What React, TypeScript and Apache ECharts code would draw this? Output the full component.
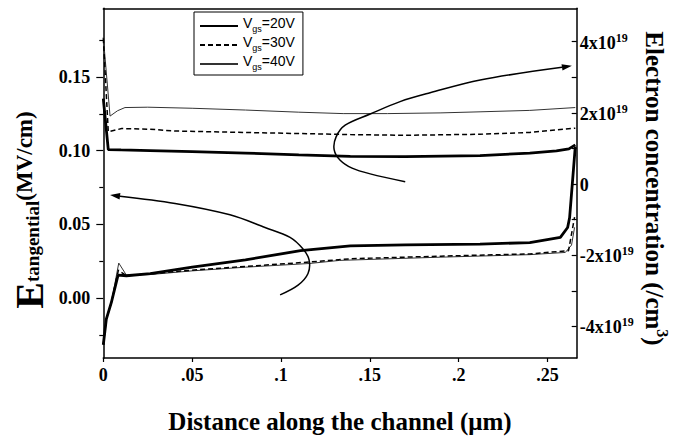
import React, { useEffect, useRef } from "react";
import * as echarts from "echarts";

// ---- data ----
// Electron concentration, units of 1e19 cm^-3 (right axis)
const xElec20 = [0, 0.0028, 0.01, 0.0263, 0.05, 0.08, 0.11, 0.139, 0.17, 0.212, 0.24, 0.255, 0.262, 0.2656];
const nElec20 = [2.4, 0.97, 0.96, 0.94, 0.91, 0.87, 0.82, 0.78, 0.77, 0.8, 0.87, 0.93, 0.99, 1.1];
const xElec30 = [0, 0.0015, 0.0028, 0.0104, 0.0263, 0.0404, 0.08, 0.139, 0.17, 0.212, 0.24, 0.2656];
const nElec30 = [4.1, 2.7, 1.47, 1.56, 1.54, 1.49, 1.45, 1.39, 1.37, 1.4, 1.45, 1.57];
const xElec40 = [0, 0.0038, 0.008, 0.0122, 0.025, 0.05, 0.08, 0.11, 0.135, 0.16, 0.19, 0.212, 0.24, 0.2656];
const nElec40 = [4.13, 1.91, 2.06, 2.15, 2.16, 2.13, 2.08, 2.02, 1.98, 1.98, 2.0, 2.03, 2.07, 2.15];

// Tangential field, MV/cm (left axis)
const xE20 = [0, 0.0017, 0.0045, 0.0083, 0.013, 0.0264, 0.05, 0.08, 0.111, 0.139, 0.17, 0.212, 0.24, 0.2572, 0.2613, 0.2624, 0.2656];
const eE20 = [-0.0316, -0.0142, -0.0031, 0.0156, 0.0152, 0.0167, 0.021, 0.026, 0.0322, 0.0355, 0.0362, 0.0366, 0.0377, 0.0412, 0.0479, 0.0545, 0.1028];
const xE30 = [0, 0.0017, 0.0045, 0.0085, 0.013, 0.0264, 0.05, 0.08, 0.116, 0.139, 0.19, 0.24, 0.2618, 0.2628, 0.2652];
const eE30 = [-0.0316, -0.0142, -0.0031, 0.019, 0.0152, 0.0165, 0.019, 0.0215, 0.0245, 0.0267, 0.0285, 0.03, 0.0322, 0.0388, 0.055];
const xE40 = [0, 0.0017, 0.0045, 0.0087, 0.013, 0.0264, 0.05, 0.08, 0.116, 0.133, 0.19, 0.24, 0.26, 0.2635, 0.2652];
const eE40 = [-0.0316, -0.0142, -0.0031, 0.0238, 0.0156, 0.016, 0.0185, 0.021, 0.0235, 0.0256, 0.0278, 0.0295, 0.031, 0.036, 0.048];

// annotation arrows (x, left-axis value), tail -> tip
const arrowLeftX = [0.0995, 0.1096, 0.1152, 0.1158, 0.1124, 0.1051, 0.091, 0.0713, 0.0404, 0.0038];
const arrowLeftY = [0.0022, 0.0088, 0.0167, 0.026, 0.0333, 0.0412, 0.0479, 0.0565, 0.0642, 0.07];
const arrowRightX = [0.1699, 0.1502, 0.14, 0.1333, 0.1299, 0.131, 0.1361, 0.1502, 0.167, 0.1839, 0.2121, 0.2637];
const arrowRightY = [0.079, 0.0843, 0.0882, 0.0935, 0.1008, 0.1094, 0.1173, 0.1249, 0.1333, 0.1393, 0.148, 0.1576];

const seriesNames = ["Vgs=20V", "Vgs=30V", "Vgs=40V"];
const xTicks = [0, 0.05, 0.1, 0.15, 0.2, 0.25];
const eTicks = [0, 0.05, 0.1, 0.15];
const eMinorTicks = [-0.025, 0.025, 0.075, 0.125, 0.175];
const nLabels = [-4, -2, 0, 2, 4];
const nTicks = [-4, -3, -2, -1, 0, 1, 2, 3, 4];

const X_MIN = 0, X_MAX = 0.2664;
const E_MIN = -0.0406, E_MAX = 0.1966;
const N_MIN = -4.89, N_MAX = 4.94;

const SERIF = "Liberation Serif";
const SANS = "Liberation Sans";

const zip = (xs: number[], ys: number[]) => xs.map((x, i) => [x, ys[i]]);

function arrowSeries(xs: number[], ys: number[]) {
  return {
    type: "custom",
    xAxisIndex: 0,
    yAxisIndex: 0,
    silent: true,
    z: 5,
    data: zip(xs, ys),
    renderItem: (params: any, api: any) => {
      if (params.dataIndex !== 0) return null;
      const pts = xs.map((x, i) => api.coord([x, ys[i]]));
      const n = pts.length;
      const tip = pts[n - 1];
      const prev = pts[n - 2];
      const dx = tip[0] - prev[0], dy = tip[1] - prev[1];
      const len = Math.hypot(dx, dy) || 1;
      const ux = dx / len, uy = dy / len;
      const L = 10, W = 3.2;
      const base = [tip[0] - ux * L, tip[1] - uy * L];
      const p1 = [base[0] - uy * W, base[1] + ux * W];
      const p2 = [base[0] + uy * W, base[1] - ux * W];
      const linePts = pts.slice(0, n - 1).concat([base]);
      return {
        type: "group",
        children: [
          { type: "polyline", shape: { points: linePts, smooth: 0.35 }, style: { stroke: "#000", lineWidth: 1.5, fill: null } },
          { type: "polygon", shape: { points: [tip, p1, p2] }, style: { fill: "#000" } },
        ],
      };
    },
  };
}

const lineStyles = [
  { color: "#000", width: 2.8, type: "solid" },
  { color: "#000", width: 1.5, type: [5, 3] },
  { color: "#333", width: 1, type: "solid" },
];

export default function App() {
  const ref = useRef<HTMLDivElement>(null);
  useEffect(() => {
    if (!ref.current) return;
    const chart = echarts.init(ref.current, undefined, { renderer: "svg" });
    const elecX = [xElec20, xElec30, xElec40];
    const elecY = [nElec20, nElec30, nElec40];
    const eX = [xE20, xE30, xE40];
    const eY = [eE20, eE30, eE40];
    const series: any[] = [];
    seriesNames.forEach((name, i) => {
      series.push({
        name, type: "line", xAxisIndex: 0, yAxisIndex: 1, data: zip(elecX[i], elecY[i]),
        showSymbol: false, symbol: "none", lineStyle: lineStyles[i], itemStyle: { color: lineStyles[i].color }, z: 5 - i,
      });
    });
    seriesNames.forEach((name, i) => {
      series.push({
        name, type: "line", xAxisIndex: 0, yAxisIndex: 0, data: zip(eX[i], eY[i]),
        showSymbol: false, symbol: "none", lineStyle: lineStyles[i], itemStyle: { color: lineStyles[i].color }, z: 5 - i,
      });
    });
    series.push(arrowSeries(arrowLeftX, arrowLeftY));
    series.push(arrowSeries(arrowRightX, arrowRightY));

    const labelFont = { fontFamily: SERIF, fontWeight: "bold" as const, fontSize: 18, color: "#000" };
    const axisLine = { show: true, onZero: false, lineStyle: { color: "#000", width: 1.5 } };

    chart.setOption({
      animation: false,
      backgroundColor: "#fff",
      grid: { left: 103.3, right: 96.3, top: 8.3, bottom: 72.3, containLabel: false },
      legend: {
        orient: "vertical",
        left: 194,
        top: 12,
        data: seriesNames,
        itemWidth: 38,
        itemHeight: 10,
        itemGap: 2,
        padding: [4, 8, 4, 5],
        borderColor: "#000",
        borderWidth: 1,
        backgroundColor: "#fff",
        selectedMode: false,
        itemStyle: { opacity: 0 },
        formatter: (name: string) => `{v|V}{s|gs}{v|=${name.split("=")[1]}}`,
        textStyle: {
          rich: {
            v: { fontFamily: SANS, fontSize: 14, lineHeight: 14, padding: [0, 0, 3, 0], verticalAlign: "bottom", color: "#000" },
            s: { fontFamily: SANS, fontSize: 9, lineHeight: 9, verticalAlign: "bottom", color: "#000" },
          },
        },
      },
      xAxis: [
        {
          type: "value", min: X_MIN, max: X_MAX, position: "bottom",
          axisLine,
          splitLine: { show: false },
          axisTick: { show: true, inside: false, length: 4, customValues: xTicks, lineStyle: { color: "#000", width: 1.2 } },
          axisLabel: {
            ...labelFont, margin: 8, customValues: xTicks,
            formatter: (v: number) => (v === 0 ? "0" : String(Number(v.toFixed(3))).replace(/^0\./, ".")),
          },
          name: "Distance along the channel (μm)",
          nameLocation: "middle",
          nameGap: 51,
          nameTextStyle: { fontFamily: SERIF, fontWeight: "bold", fontSize: 25, color: "#000" },
        },
        {
          type: "value", min: X_MIN, max: X_MAX, position: "top",
          axisLine, axisTick: { show: false }, axisLabel: { show: false }, splitLine: { show: false },
        },
      ],
      yAxis: [
        {
          type: "value", min: E_MIN, max: E_MAX, position: "left",
          axisLine, splitLine: { show: false },
          axisTick: { show: true, inside: false, length: 7, customValues: eTicks, lineStyle: { color: "#000", width: 1.2 } },
          axisLabel: { ...labelFont, margin: 13, customValues: eTicks, formatter: (v: number) => v.toFixed(2) },
        },
        {
          type: "value", min: N_MIN, max: N_MAX, position: "right",
          axisLine, splitLine: { show: false },
          axisTick: { show: true, inside: true, length: 5, customValues: nTicks, lineStyle: { color: "#000", width: 1.2 } },
          axisLabel: {
            margin: 3, customValues: nLabels,
            formatter: (v: number) => (v === 0 ? "{b|0}" : `{b|${v}x10}{s|19}`),
            rich: {
              b: { fontFamily: SERIF, fontWeight: "bold", fontSize: 18, lineHeight: 20, verticalAlign: "bottom", color: "#000" },
              s: { fontFamily: SERIF, fontWeight: "bold", fontSize: 12, lineHeight: 12, verticalAlign: "top", padding: [0, 0, 8, 0], color: "#000" },
            },
          },
        },
        {
          type: "value", min: E_MIN, max: E_MAX, position: "left",
          axisLine: { show: false, onZero: false }, splitLine: { show: false }, axisLabel: { show: false },
          axisTick: { show: true, inside: false, length: 4, customValues: eMinorTicks, lineStyle: { color: "#000", width: 1.2 } },
        },
      ],
      graphic: [
        {
          type: "text",
          x: 29,
          y: 210,
          rotation: Math.PI / 2,
          style: {
            text: "{e|E}{s|tangential}{n|(MV/cm)}",
            align: "center",
            verticalAlign: "middle",
            rich: {
              e: { fontFamily: SERIF, fontWeight: "bold", fontSize: 40, lineHeight: 40, verticalAlign: "bottom", fill: "#000" },
              s: { fontFamily: SERIF, fontWeight: "bold", fontSize: 19, lineHeight: 19, padding: [0, 0, 7, 0], verticalAlign: "bottom", fill: "#000" },
              n: { fontFamily: SERIF, fontWeight: "bold", fontSize: 23, lineHeight: 23, padding: [0, 0, 13, 0], verticalAlign: "bottom", fill: "#000" },
            },
          },
        },
        {
          type: "text",
          x: 656,
          y: 188.5,
          rotation: -Math.PI / 2,
          style: {
            text: "{t|Electron concentration (/cm}{p|3}{t|)}",
            align: "center",
            verticalAlign: "middle",
            rich: {
              t: { fontFamily: SERIF, fontWeight: "bold", fontSize: 25, lineHeight: 28, verticalAlign: "bottom", fill: "#000" },
              p: { fontFamily: SERIF, fontWeight: "bold", fontSize: 16, lineHeight: 16, verticalAlign: "top", fill: "#000" },
            },
          },
        },
      ],
      series,
    });
    return () => chart.dispose();
  }, []);
  return <div ref={ref} style={{ width: 673, height: 439, position: "absolute", left: 0, top: 0 }} />;
}
